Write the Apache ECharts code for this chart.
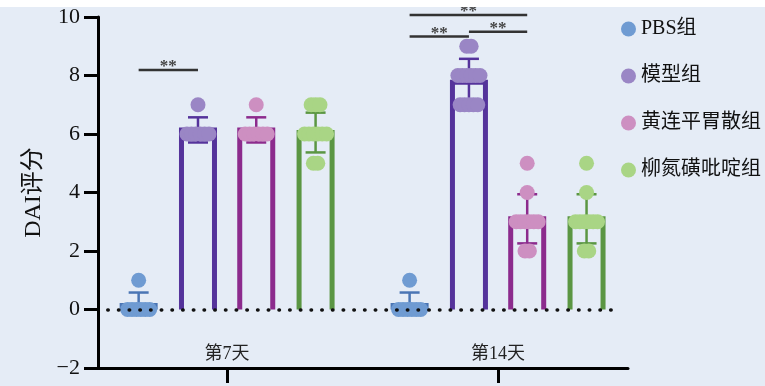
<!DOCTYPE html>
<html>
<head>
<meta charset="utf-8">
<script src="https://cdn.jsdelivr.net/npm/echarts@6/dist/echarts.min.js"></script>
<style>
html, body { margin: 0; padding: 0; background: #fff; }
#chart { width: 765px; height: 386px; }
</style>
</head>
<body>
<div id="chart"></div>
<script>
// 数据
var days = ['第7天', '第14天'];
var groups = ['PBS组', '模型组', '黄连平胃散组', '柳氮磺吡啶组'];
var yTicks = [-2, 0, 2, 4, 6, 8, 10];

// 各组均值、标准差（第7天, 第14天）
var pbsMean = [0.14, 0.14];
var modelMean = [6.14, 7.77];
var hlpwsMean = [6.14, 3.1];
var sasMean = [6.05, 3.1];
var pbsSd = [0.44, 0.44];
var modelSd = [0.43, 0.8];
var hlpwsSd = [0.43, 0.84];
var sasSd = [0.68, 0.84];

// 个体评分
var pbsScores = [[0, 0, 0, 0, 0, 0, 1], [0, 0, 0, 0, 0, 0, 1]];
var modelScores = [[6, 6, 6, 6, 6, 6, 7], [7, 7, 7, 7, 7, 8, 8, 8, 8, 8, 8, 9, 9]];
var hlpwsScores = [[6, 6, 6, 6, 6, 6, 7], [2, 2, 3, 3, 3, 3, 3, 3, 4, 5]];
var sasScores = [[5, 5, 6, 6, 6, 6, 6, 6, 7, 7, 7], [2, 2, 3, 3, 3, 3, 3, 3, 4, 5]];

// 显著性标记：[天, 组A, 组B, 高度, 文字]
var sigMarks = [[0, 0, 1, 8.19, '**'], [1, 0, 2, 10.07, '**'], [1, 0, 1, 9.33, '**'], [1, 1, 2, 9.5, '**']];

(function () {
  var myChart = echarts.init(document.getElementById('chart'));

  var means = [pbsMean, modelMean, hlpwsMean, sasMean];
  var sds = [pbsSd, modelSd, hlpwsSd, sasSd];
  var scores = [pbsScores, modelScores, hlpwsScores, sasScores];

  // 布局
  var groupOffset = [-0.326, -0.107, 0.108, 0.327];
  var swarmStep = 0.0163;
  var pointColors = ['#6f9bd2', '#9a86c5', '#cd8fc1', '#a9d585'];
  var lineColors = ['#4a75b4', '#55339b', '#8c2b8d', '#5b9643'];
  var serif = "'Liberation Serif', 'Noto Sans CJK SC', serif";

  var series = [];

  groups.forEach(function (name, g) {
    var barData = [];
    var errData = [];
    var pts = [];
    days.forEach(function (d, i) {
      var x = i + groupOffset[g];
      var m = means[g][i];
      barData.push([x, m]);
      errData.push([x, Math.max(0, m - sds[g][i]), m + sds[g][i]]);
      // 同一分值的点水平排开
      var counts = {};
      scores[g][i].forEach(function (v) { counts[v] = (counts[v] || 0) + 1; });
      Object.keys(counts).forEach(function (k) {
        var n = counts[k];
        for (var j = 0; j < n; j++) {
          pts.push([x + (j - (n - 1) / 2) * swarmStep, +k]);
        }
      });
    });

    // 空心柱
    series.push({
      type: 'custom',
      z: 2,
      silent: true,
      data: barData,
      renderItem: function (params, api) {
        var top = api.coord([api.value(0), api.value(1)]);
        var base = api.coord([api.value(0), 0]);
        var hw = 16.5;
        return {
          type: 'polyline',
          shape: { points: [[top[0] - hw, base[1]], [top[0] - hw, top[1]], [top[0] + hw, top[1]], [top[0] + hw, base[1]]] },
          style: { stroke: lineColors[g], lineWidth: 5, fill: null }
        };
      }
    });

    // 误差线
    series.push({
      type: 'custom',
      z: 3,
      silent: true,
      data: errData,
      renderItem: function (params, api) {
        var lo = api.coord([api.value(0), api.value(1)]);
        var hi = api.coord([api.value(0), api.value(2)]);
        var cw = 10;
        var st = { stroke: lineColors[g], lineWidth: 2.5 };
        return {
          type: 'group',
          children: [
            { type: 'line', shape: { x1: lo[0], y1: lo[1], x2: hi[0], y2: hi[1] }, style: st },
            { type: 'line', shape: { x1: hi[0] - cw, y1: hi[1], x2: hi[0] + cw, y2: hi[1] }, style: st },
            { type: 'line', shape: { x1: lo[0] - cw, y1: lo[1], x2: lo[0] + cw, y2: lo[1] }, style: st }
          ]
        };
      }
    });

    // 散点
    var sc = {
      name: name,
      type: 'scatter',
      z: 4,
      silent: true,
      symbolSize: 15,
      itemStyle: { color: pointColors[g], opacity: 1 },
      data: pts
    };
    if (g === 0) {
      sc.markLine = {
        silent: true,
        symbol: 'none',
        label: { show: false },
        lineStyle: { color: '#111', width: 3.5, type: [0.5, 10.2], cap: 'round', opacity: 1 },
        data: [[{ coord: [-0.44, 0] }, { coord: [1.44, 0] }]]
      };
    }
    series.push(sc);
  });

  // 显著性
  series.push({
    type: 'custom',
    z: 5,
    silent: true,
    data: sigMarks.map(function (s) {
      return [s[0] + groupOffset[s[1]], s[0] + groupOffset[s[2]], s[3]];
    }),
    renderItem: function (params, api) {
      var a = api.coord([api.value(0), api.value(2)]);
      var b = api.coord([api.value(1), api.value(2)]);
      return {
        type: 'group',
        children: [
          { type: 'line', shape: { x1: a[0], y1: a[1], x2: b[0], y2: b[1] }, style: { stroke: '#333', lineWidth: 2.5 } },
          {
            type: 'text',
            style: {
              text: sigMarks[params.dataIndex][4],
              x: (a[0] + b[0]) / 2, y: a[1] - 3,
              align: 'center', verticalAlign: 'middle',
              font: 'bold 17px ' + serif, fill: '#444'
            }
          }
        ]
      };
    }
  });

  var option = {
    backgroundColor: '#e5ecf6',
    animation: false,
    graphic: [{ type: 'rect', left: 0, top: 0, z: 100, shape: { width: 765, height: 7 }, style: { fill: '#fff' } }],
    grid: { left: 98, right: 137, top: 17, bottom: 18 },
    legend: {
      data: groups,
      orient: 'vertical',
      left: 616,
      top: 14,
      icon: 'circle',
      itemWidth: 15,
      itemHeight: 15,
      itemGap: 27,
      selectedMode: false,
      textStyle: { fontSize: 20, fontFamily: serif, color: '#111', lineHeight: 20 }
    },
    xAxis: {
      type: 'value',
      min: -0.476,
      max: 1.48,
      splitLine: { show: false },
      axisLine: { show: true, onZero: false, lineStyle: { color: '#000', width: 3 } },
      axisTick: { show: true, customValues: [0, 1], length: 15, lineStyle: { color: '#000', width: 3 } },
      axisLabel: {
        customValues: [0, 1],
        inside: true,
        margin: 5,
        fontSize: 18,
        fontFamily: serif,
        color: '#222',
        formatter: function (v) { return days[Math.round(v)]; }
      }
    },
    yAxis: {
      type: 'value',
      min: yTicks[0],
      max: yTicks[yTicks.length - 1],
      interval: 2,
      name: 'DAI评分',
      nameLocation: 'middle',
      nameGap: 50,
      nameTextStyle: { fontSize: 24, fontFamily: serif, color: '#111' },
      splitLine: { show: false },
      axisLine: { show: true, onZero: false, lineStyle: { color: '#000', width: 3 } },
      axisTick: { show: true, length: 14, lineStyle: { color: '#000', width: 3 } },
      axisLabel: {
        fontSize: 22,
        fontFamily: serif,
        color: '#111',
        margin: 18,
        formatter: function (v) { return v < 0 ? '\u2212' + Math.abs(v) : String(v); }
      }
    },
    series: series
  };

  myChart.setOption(option);
})();
</script>
</body>
</html>
